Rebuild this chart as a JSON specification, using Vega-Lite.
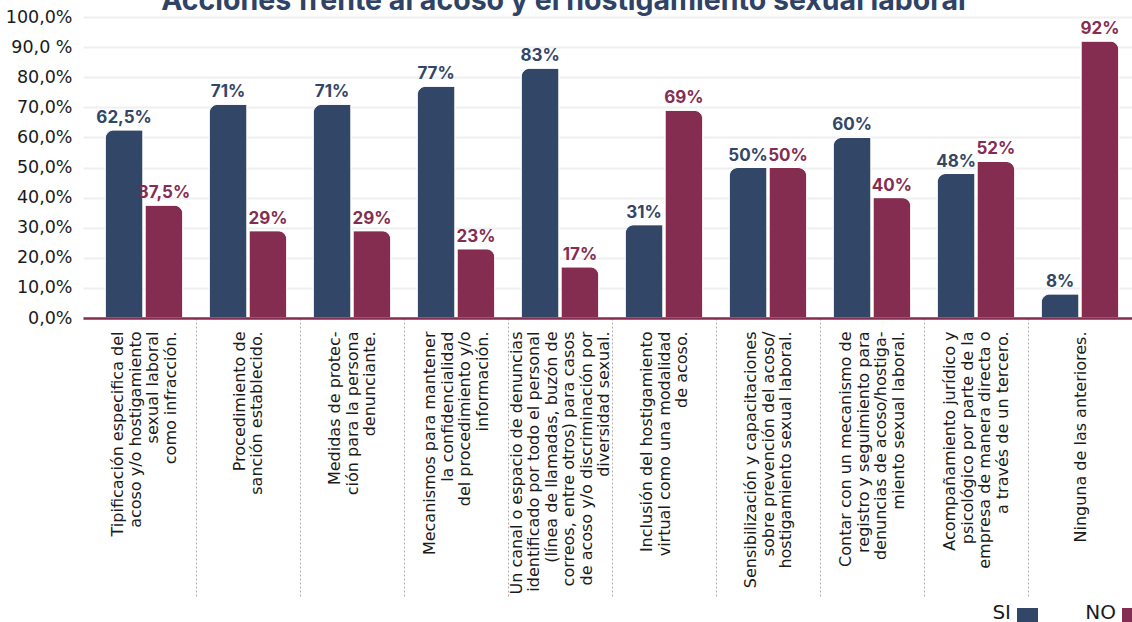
{
  "$schema": "https://vega.github.io/schema/vega-lite/v6.json",
  "width": 1049,
  "height": 301,
  "autosize": {"type": "none"},
  "padding": {"left": 83, "top": 17, "right": 0, "bottom": 304},
  "background": "white",
  "config": {
    "view": {"stroke": null},
    "font": "DejaVu Sans",
    "locale": {"number": {"decimal": ",", "thousands": ".", "grouping": [3], "currency": ["", " €"]}}
  },
  "title": {
    "text": "Acciones frente al acoso y el hostigamiento sexual laboral",
    "font": "Inter",
    "fontSize": 28.5,
    "fontWeight": "bold",
    "color": "#2f4366",
    "anchor": "middle",
    "dx": -44,
    "baseline": "alphabetic",
    "offset": -30
  },
  "data": {
    "values": [
      {"accion": "Tipificación especifica del|acoso y/o hostigamiento|sexual laboral|como infracción.", "tipo": "SI", "valor": 0.625},
      {"accion": "Tipificación especifica del|acoso y/o hostigamiento|sexual laboral|como infracción.", "tipo": "NO", "valor": 0.375},
      {"accion": "Procedimiento de|sanción establecido.", "tipo": "SI", "valor": 0.71},
      {"accion": "Procedimiento de|sanción establecido.", "tipo": "NO", "valor": 0.29},
      {"accion": "Medidas de protec-|ción para la persona|denunciante.", "tipo": "SI", "valor": 0.71},
      {"accion": "Medidas de protec-|ción para la persona|denunciante.", "tipo": "NO", "valor": 0.29},
      {"accion": "Mecanismos para mantener|la confidencialidad|del procedimiento y/o|información.", "tipo": "SI", "valor": 0.77},
      {"accion": "Mecanismos para mantener|la confidencialidad|del procedimiento y/o|información.", "tipo": "NO", "valor": 0.23},
      {"accion": "Un canal o espacio de denuncias|identificado por todo el personal|(línea de llamadas, buzón de|correos, entre otros) para casos|de acoso y/o discriminación por|diversidad sexual.", "tipo": "SI", "valor": 0.83},
      {"accion": "Un canal o espacio de denuncias|identificado por todo el personal|(línea de llamadas, buzón de|correos, entre otros) para casos|de acoso y/o discriminación por|diversidad sexual.", "tipo": "NO", "valor": 0.17},
      {"accion": "Inclusión del hostigamiento|virtual como una modalidad|de acoso.", "tipo": "SI", "valor": 0.31},
      {"accion": "Inclusión del hostigamiento|virtual como una modalidad|de acoso.", "tipo": "NO", "valor": 0.69},
      {"accion": "Sensibilización y capacitaciones|sobre prevención del acoso/|hostigamiento sexual laboral.", "tipo": "SI", "valor": 0.5},
      {"accion": "Sensibilización y capacitaciones|sobre prevención del acoso/|hostigamiento sexual laboral.", "tipo": "NO", "valor": 0.5},
      {"accion": "Contar con un mecanismo de|registro y seguimiento para|denuncias de acoso/hostiga-|miento sexual laboral.", "tipo": "SI", "valor": 0.6},
      {"accion": "Contar con un mecanismo de|registro y seguimiento para|denuncias de acoso/hostiga-|miento sexual laboral.", "tipo": "NO", "valor": 0.4},
      {"accion": "Acompañamiento jurídico y|psicológico por parte de la|empresa de manera directa o|a través de un tercero.", "tipo": "SI", "valor": 0.48},
      {"accion": "Acompañamiento jurídico y|psicológico por parte de la|empresa de manera directa o|a través de un tercero.", "tipo": "NO", "valor": 0.52},
      {"accion": "Ninguna de las anteriores.", "tipo": "SI", "valor": 0.08},
      {"accion": "Ninguna de las anteriores.", "tipo": "NO", "valor": 0.92}
    ]
  },
  "encoding": {
    "x": {
      "field": "accion",
      "type": "nominal",
      "sort": null,
      "scale": {"paddingInner": 0, "paddingOuter": 0.0433, "align": 1},
      "axis": {
        "title": null,
        "zindex": 1,
        "domainColor": "#862d52",
        "domainWidth": 2.5,
        "ticks": true,
        "tickBand": "extent",
        "tickSize": 280,
        "tickDash": [2, 2],
        "tickColor": "#b0b0b0",
        "tickWidth": 1,
        "tickOpacity": {"condition": {"test": "datum.index < 0", "value": 0}, "value": 1},
        "labelAngle": 270,
        "labelAlign": "right",
        "labelBaseline": "middle",
        "labelPadding": -267,
        "labelOffset": {"expr": "-(length(split(datum.label, '|')) - 1) * 8.75"},
        "labelFontSize": 16,
        "labelLineHeight": 17.5,
        "labelLimit": 400,
        "labelColor": "#1a1a1a",
        "labelExpr": "split(datum.label, '|')"
      }
    },
    "xOffset": {
      "field": "tipo",
      "type": "nominal",
      "scale": {"domain": ["SI", "NO"], "paddingInner": 0.05, "paddingOuter": 0.33}
    },
    "y": {
      "field": "valor",
      "type": "quantitative",
      "scale": {"domain": [0, 1], "nice": false},
      "axis": {
        "title": null,
        "domain": false,
        "ticks": false,
        "values": [0, 0.1, 0.2, 0.3, 0.4, 0.5, 0.6, 0.7, 0.8, 0.9, 1],
        "labelPadding": 11,
        "labelFontSize": 17.5,
        "labelColor": "#1a1a1a",
        "gridColor": "#efefef",
        "gridWidth": 2,
        "labelExpr": "abs(datum.value - 0.9) < 0.001 ? '90,0 %' : replace(format(datum.value * 100, '.1f'), '.', ',') + '%'"
      }
    },
    "color": {
      "field": "tipo",
      "type": "nominal",
      "scale": {"domain": ["SI", "NO"], "range": ["#324667", "#852c51"]},
      "legend": {
        "orient": "none",
        "legendX": 934,
        "legendY": 591,
        "direction": "horizontal",
        "title": null,
        "symbolType": "square",
        "symbolSize": 441,
        "symbolStrokeWidth": 0,
        "symbolOpacity": 1,
        "labelFontSize": 20,
        "labelColor": "#1a1a1a",
        "labelOffset": -27,
        "labelAlign": "right",
        "labelBaseline": "alphabetic",
        "columnPadding": 47
      }
    }
  },
  "layer": [
    {
      "transform": [{"filter": "datum.tipo == 'SI'"}],
      "mark": {"type": "bar", "cornerRadiusTopLeft": 9, "stroke": "#ffffff", "strokeWidth": 1}
    },
    {
      "transform": [{"filter": "datum.tipo == 'NO'"}],
      "mark": {"type": "bar", "cornerRadiusTopRight": 9, "stroke": "#ffffff", "strokeWidth": 1}
    },
    {
      "mark": {"type": "text", "baseline": "alphabetic", "dy": -7, "font": "Inter", "fontSize": 17, "fontWeight": "bold"},
      "encoding": {
        "text": {"field": "valor", "type": "quantitative", "format": ".1~%"}
      }
    }
  ]
}
